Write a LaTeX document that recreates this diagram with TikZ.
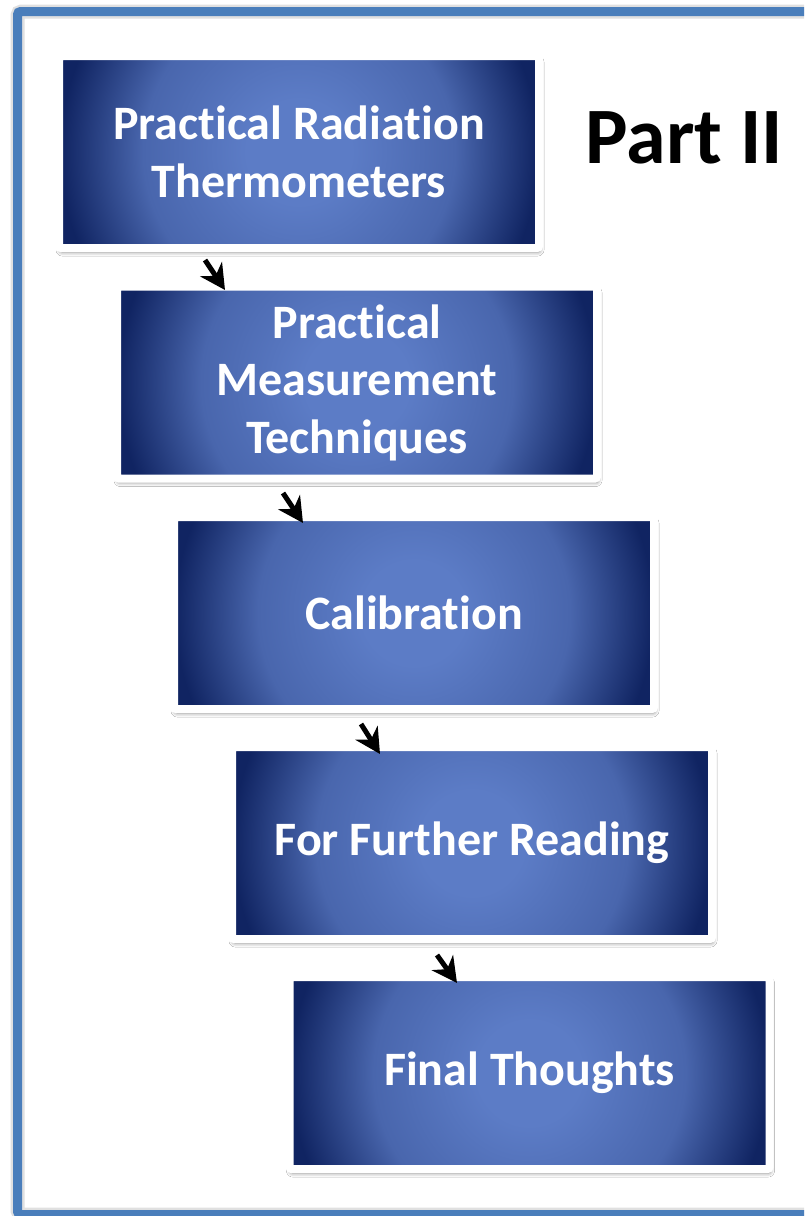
\documentclass[tikz,border=0pt]{standalone}
\usepackage{fontspec}
\setmainfont{Carlito}[Ligatures={NoCommon,NoContextual},Contextuals={NoAlternate}]
\usetikzlibrary{arrows.meta,shadows.blur}
\definecolor{frameblue}{RGB}{74,126,187}
\definecolor{gcenter}{RGB}{92,124,198}
\definecolor{gedge}{RGB}{16,36,98}
\colorlet{gmid}{gcenter!75!gedge}
\pgfdeclareradialshading{boxglow}{\pgfpoint{0bp}{0bp}}{color(0bp)=(gcenter); color(5bp)=(gcenter); color(15bp)=(gmid); color(23bp)=(gedge); color(50bp)=(gedge)}
\tikzset{
  stepbox/.style={rectangle, draw=white, line width=8pt, rounded corners=2pt,
    minimum width=480pt, minimum height=192pt, inner sep=0pt, outer sep=0pt, align=center,
    text=white, font=\fontsize{48}{57.5}\selectfont\bfseries,
    path picture={\shade[shading=boxglow] (path picture bounding box.center) ++(-260,-260) rectangle ++(520,520);},
    blur shadow={shadow xshift=1pt, shadow yshift=-4pt, shadow blur radius=4pt, shadow opacity=50}},
  flowarrow/.style={line width=5pt, black, -{Stealth[length=25pt,width=26pt,inset=8pt]}},
  frameline/.style={draw=frameblue, line width=9pt, rounded corners=3pt},
  frameshadow/.style={draw=black!12, line width=14pt, rounded corners=4pt}
}
\begin{document}
\begin{tikzpicture}[x=1pt,y=-1pt]
\useasboundingbox (0,0) rectangle (804,1216);
\clip (0,0) rectangle (804,1216);
\fill[white] (0,0) rectangle (804,1216);
\draw[frameshadow] (17.5,11.5) rectangle (840,1214.5);
\draw[frameline] (17.5,11.5) rectangle (840,1214.5);
\node[stepbox] (b1) at (299,152) {Practical Radiation\\Thermometers};
\node[stepbox] (b2) at (357,382.5) {Practical\\Measurement\\Techniques};
\node[stepbox] (b3) at (414,613) {Calibration};
\node[stepbox] (b4) at (472,843) {For Further Reading};
\node[stepbox] (b5) at (529.5,1073) {Final Thoughts};
\node[anchor=base, inner sep=0pt, font=\fontsize{80}{96}\selectfont\bfseries] (title) at (684.5,163) {Part II};
\draw[flowarrow] ([xshift=146pt,yshift=-12pt]b1.south west) -- ([xshift=108pt,yshift=-3.5pt]b2.north west);
\draw[flowarrow] ([xshift=166pt,yshift=-14.5pt]b2.south west) -- ([xshift=129pt,yshift=-6pt]b3.north west);
\draw[flowarrow] ([xshift=187pt,yshift=-15pt]b3.south west) -- ([xshift=148pt,yshift=-7pt]b4.north west);
\draw[flowarrow] ([xshift=205pt,yshift=-16pt]b4.south west) -- ([xshift=167.5pt,yshift=-6pt]b5.north west);
\end{tikzpicture}
\end{document}
